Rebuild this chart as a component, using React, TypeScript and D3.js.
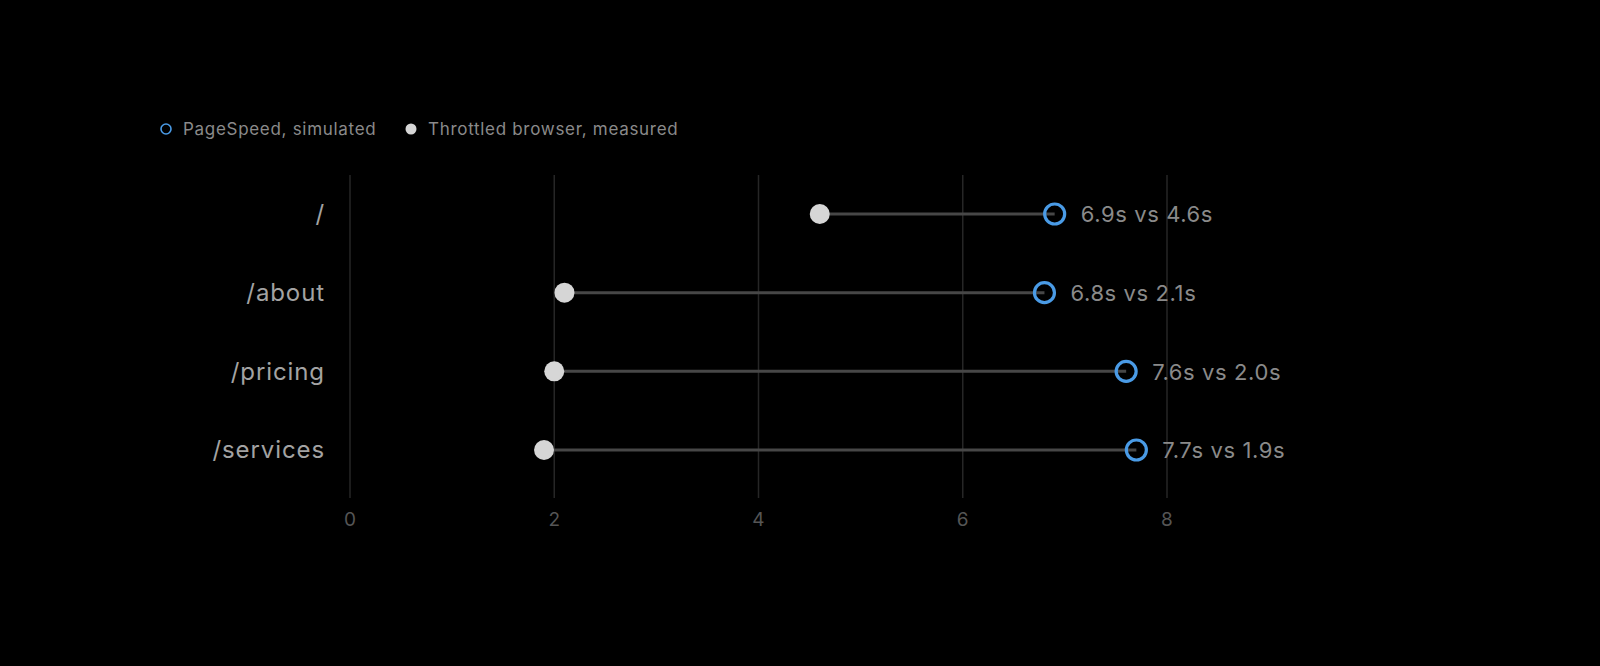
import { useEffect, useRef } from "react";
import * as d3 from "d3";

const pages = ["/", "/about", "/pricing", "/services"];
const simulated = [6.9, 6.8, 7.6, 7.7];
const measured = [4.6, 2.1, 2.0, 1.9];
const xTicks = [0, 2, 4, 6, 8];
const legendLabels = ["PageSpeed, simulated", "Throttled browser, measured"];

const FONT = "Inter, 'Noto Sans', sans-serif";
const BLUE = "#4a9be6";
const DOT = "#d6d6d6";

export default function App() {
  const ref = useRef<SVGSVGElement>(null);

  useEffect(() => {
    if (!ref.current) return;
    const svg = d3.select(ref.current);
    svg.selectAll("*").remove();
    const w = 1600;
    const h = 666;

    const x = d3.scaleLinear().domain([0, 8]).range([350, 1167]);
    const y = d3.scalePoint<string>().domain(pages).range([214, 450]);

    svg.append("rect").attr("width", w).attr("height", h).attr("fill", "#000");

    // gridlines
    svg.append("g")
      .selectAll("line")
      .data(xTicks)
      .join("line")
      .attr("x1", (d) => x(d)).attr("x2", (d) => x(d))
      .attr("y1", 175).attr("y2", 498)
      .attr("stroke", "#262626").attr("stroke-width", 1.5);

    // x tick labels
    svg.append("g")
      .selectAll("text")
      .data(xTicks)
      .join("text")
      .attr("x", (d) => x(d)).attr("y", 526)
      .attr("text-anchor", "middle")
      .attr("font-family", FONT).attr("font-size", 19)
      .attr("fill", "#555")
      .text((d) => d);

    // category labels
    svg.append("g")
      .selectAll("text")
      .data(pages)
      .join("text")
      .attr("x", 325).attr("y", (d) => y(d)!)
      .attr("dy", "0.35em")
      .attr("text-anchor", "end")
      .attr("font-family", FONT).attr("font-size", 24)
      .attr("letter-spacing", 0.9)
      .attr("fill", "#a3a3a3")
      .text((d) => d);

    const rows = pages.map((p, i) => ({ page: p, sim: simulated[i], meas: measured[i] }));

    // connectors
    svg.append("g")
      .selectAll("line")
      .data(rows)
      .join("line")
      .attr("x1", (d) => x(d.meas)).attr("x2", (d) => x(d.sim))
      .attr("y1", (d) => y(d.page)!).attr("y2", (d) => y(d.page)!)
      .attr("stroke", "#474747").attr("stroke-width", 3);

    // measured dots
    svg.append("g")
      .selectAll("circle")
      .data(rows)
      .join("circle")
      .attr("cx", (d) => x(d.meas)).attr("cy", (d) => y(d.page)!)
      .attr("r", 10)
      .attr("fill", DOT);

    // simulated rings
    svg.append("g")
      .selectAll("circle")
      .data(rows)
      .join("circle")
      .attr("cx", (d) => x(d.sim)).attr("cy", (d) => y(d.page)!)
      .attr("r", 10)
      .attr("fill", "none")
      .attr("stroke", BLUE).attr("stroke-width", 3.2);

    // value labels
    svg.append("g")
      .selectAll("text")
      .data(rows)
      .join("text")
      .attr("x", (d) => x(d.sim) + 26).attr("y", (d) => y(d.page)!)
      .attr("dy", "0.38em")
      .attr("font-family", FONT).attr("font-size", 22)
      .attr("letter-spacing", 0.6)
      .attr("fill", "#8a8a8a")
      .text((d) => `${d.sim.toFixed(1)}s vs ${d.meas.toFixed(1)}s`);

    // legend
    const lg = svg.append("g").attr("font-family", FONT).attr("font-size", 17)
      .attr("letter-spacing", 0.7).attr("fill", "#8a8a8a");
    lg.append("circle").attr("cx", 166).attr("cy", 129).attr("r", 5)
      .attr("fill", "none").attr("stroke", BLUE).attr("stroke-width", 1.6);
    lg.append("text").attr("x", 183).attr("y", 129).attr("dy", "0.35em").text(legendLabels[0]);
    lg.append("circle").attr("cx", 411).attr("cy", 129).attr("r", 5.5).attr("fill", DOT);
    lg.append("text").attr("x", 428).attr("y", 129).attr("dy", "0.35em").text(legendLabels[1]);
  }, []);

  return (
    <svg
      ref={ref}
      width={1600}
      height={666}
      style={{ position: "absolute", left: 0, top: 0, display: "block" }}
    />
  );
}
